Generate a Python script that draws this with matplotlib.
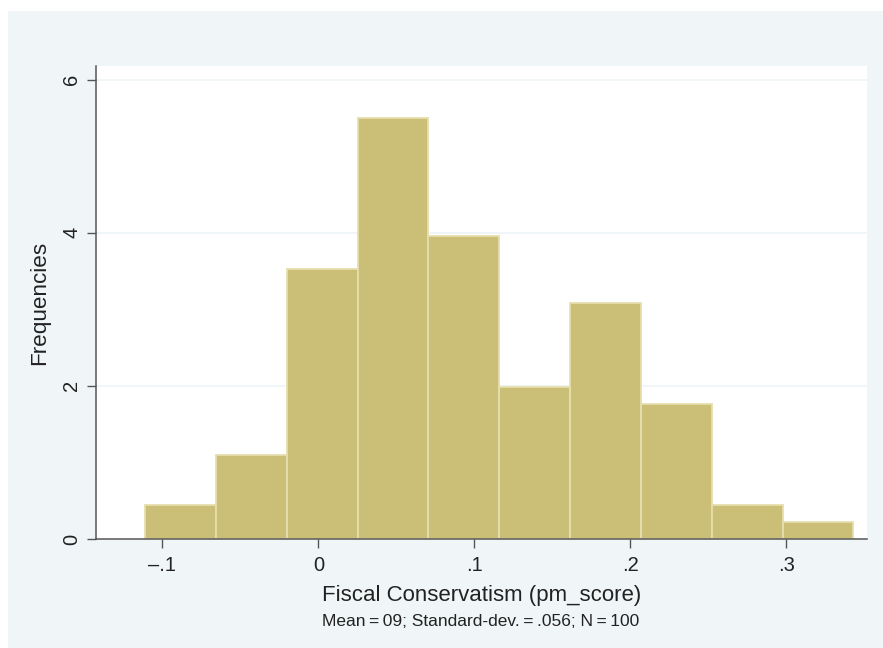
import numpy as np
import matplotlib
matplotlib.use("Agg")
import matplotlib.pyplot as plt
from matplotlib.patches import Rectangle

plt.rcParams['font.family'] = ['Liberation Sans', 'DejaVu Sans']

# histogram of pm_score: 10 bins, counts per bin
bin_start = -0.111
bin_width = 0.0454
counts = [2, 5, 16, 25, 18, 9, 14, 8, 2, 1]
n_obs = 100

x_ticks = [-0.1, 0, 0.1, 0.2, 0.3]
x_labels = ['\u2013.1', '0', '.1', '.2', '.3']
y_ticks = [0, 2, 4, 6]

panel = '#f0f6f7'
bar_fill = '#cbbf78'
bar_edge = '#e6dead'
axis_col = '#555555'

edges = bin_start + bin_width * np.arange(len(counts))
density = np.array(counts) / (n_obs * bin_width)

fig = plt.figure(figsize=(8.83, 6.48), dpi=100)
fig.patch.set_facecolor('white')
fig.patches.append(Rectangle((8 / 883, 0), 1, 1 - 11 / 648, transform=fig.transFigure,
                             facecolor=panel, edgecolor='none', zorder=-5))

ax = fig.add_axes([96 / 883, 1 - 539 / 648, (866.7 - 96) / 883, (539 - 66) / 648])
ax.set_facecolor('white')

ax.bar(edges, density, width=bin_width, align='edge', color=bar_fill,
       edgecolor=bar_edge, linewidth=1.3, zorder=3)

ax.set_xlim(-0.1425, 0.3515)
ax.set_ylim(0, 6.18)

for y in y_ticks[1:]:
    ax.axhline(y, color=panel, linewidth=1.4, zorder=1)

for side in ['top', 'right']:
    ax.spines[side].set_visible(False)
for side in ['left', 'bottom']:
    ax.spines[side].set_color(axis_col)
    ax.spines[side].set_linewidth(1.1)
    ax.spines[side].set_zorder(4)

ax.set_xticks(x_ticks)
ax.set_xticklabels(x_labels)
ax.set_yticks(y_ticks)
ax.set_yticklabels([str(v) for v in y_ticks], rotation=90, va='center')
ax.tick_params(axis='both', length=6.5, width=1.0, color=axis_col,
               labelsize=14.5, labelcolor='#222222')
ax.tick_params(axis='x', pad=6)
ax.tick_params(axis='y', pad=4)

ax.set_ylabel('Frequencies', fontsize=16.2, color='#222222', labelpad=9)
ax.set_xlabel('Fiscal Conservatism (pm_score)', fontsize=16, color='#222222', labelpad=7)

fig.text(481 / 883, 1 - 622 / 648, 'Mean\u2009=\u200909; Standard-dev.\u2009=\u2009.056; N\u2009=\u2009100',
         ha='center', va='center', fontsize=12.5, color='#222222')

fig.savefig('out.png', dpi=100, facecolor=fig.get_facecolor())
